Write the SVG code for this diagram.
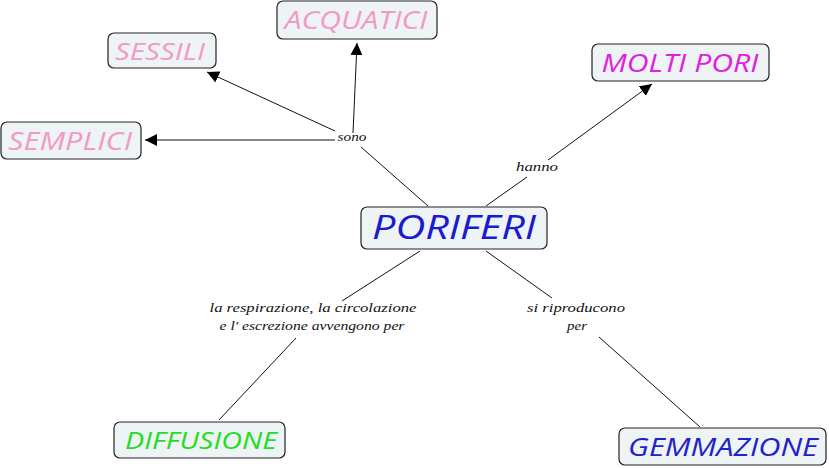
<svg xmlns="http://www.w3.org/2000/svg" width="829" height="468" viewBox="0 0 829 468">
<style>
.box{fill:#eef3f5;stroke:#222;stroke-width:1.2}
.nt{font-family:"Open Sans","DejaVu Sans",sans-serif;font-style:italic;text-anchor:middle}
.lt{font-family:"Liberation Serif","DejaVu Serif",serif;font-style:italic;font-size:13px;fill:#111;text-anchor:middle}
.ln{stroke:#111;stroke-width:1;fill:none}
.pink{fill:#f29ac4}
</style>
<defs>
<marker id="ah" viewBox="0 0 10 10" refX="10" refY="5" markerWidth="12" markerHeight="12" markerUnits="userSpaceOnUse" orient="auto">
<path d="M0,0 L10,5 L0,10 z" fill="#000"/>
</marker>
</defs>
<g id="connectors">
<line class="ln" x1="428" y1="206" x2="361" y2="147"/>
<line class="ln" x1="335" y1="140" x2="145" y2="140" marker-end="url(#ah)"/>
<line class="ln" x1="335" y1="131" x2="207" y2="72" marker-end="url(#ah)"/>
<line class="ln" x1="353" y1="133" x2="357" y2="43" marker-end="url(#ah)"/>
<line class="ln" x1="486" y1="206" x2="527" y2="177"/>
<line class="ln" x1="548" y1="160" x2="652" y2="84" marker-end="url(#ah)"/>
<line class="ln" x1="420" y1="251" x2="342" y2="301"/>
<line class="ln" x1="296" y1="338" x2="219" y2="420"/>
<line class="ln" x1="486" y1="251" x2="552" y2="298"/>
<line class="ln" x1="599" y1="337" x2="700" y2="427"/>
<text class="lt" x="352" y="141" textLength="29" lengthAdjust="spacingAndGlyphs">sono</text>
<text class="lt" x="537" y="171" textLength="42" lengthAdjust="spacingAndGlyphs">hanno</text>
<text class="lt" x="313" y="312" textLength="207" lengthAdjust="spacingAndGlyphs">la respirazione, la circolazione</text>
<text class="lt" x="312" y="330" textLength="185" lengthAdjust="spacingAndGlyphs">e l' escrezione avvengono per</text>
<text class="lt" x="576" y="312" textLength="98" lengthAdjust="spacingAndGlyphs">si riproducono</text>
<text class="lt" x="577" y="330" textLength="20" lengthAdjust="spacingAndGlyphs">per</text>
</g>
<g id="acquatici">
<rect class="box" x="277" y="1" width="160" height="38" rx="6"/>
<text class="nt pink" x="356" y="29" font-size="26" textLength="143" lengthAdjust="spacingAndGlyphs">ACQUATICI</text>
</g>
<g id="sessili">
<rect class="box" x="108" y="33" width="108" height="35" rx="6"/>
<text class="nt pink" x="160" y="60" font-size="24" textLength="90" lengthAdjust="spacingAndGlyphs">SESSILI</text>
</g>
<g id="semplici">
<rect class="box" x="1" y="122" width="140" height="37" rx="6"/>
<text class="nt pink" x="70" y="150" font-size="26" textLength="124" lengthAdjust="spacingAndGlyphs">SEMPLICI</text>
</g>
<g id="molti-pori">
<rect class="box" x="592" y="44" width="177" height="37" rx="6"/>
<text class="nt" x="680" y="72" font-size="26" fill="#e020e0" textLength="157" lengthAdjust="spacingAndGlyphs">MOLTI PORI</text>
</g>
<g id="poriferi">
<rect class="box" x="361" y="207" width="186" height="42" rx="6"/>
<text class="nt" x="454" y="239" font-size="32" fill="#1a1ad0" textLength="164" lengthAdjust="spacingAndGlyphs">PORIFERI</text>
</g>
<g id="diffusione">
<rect class="box" x="114" y="422" width="171" height="36" rx="6"/>
<text class="nt" x="201" y="449" font-size="24" fill="#22dd22" textLength="152" lengthAdjust="spacingAndGlyphs">DIFFUSIONE</text>
</g>
<g id="gemmazione">
<rect class="box" x="619" y="428" width="207" height="37" rx="6"/>
<text class="nt" x="723" y="456" font-size="26" fill="#1e22c8" textLength="190" lengthAdjust="spacingAndGlyphs">GEMMAZIONE</text>
</g>
</svg>
